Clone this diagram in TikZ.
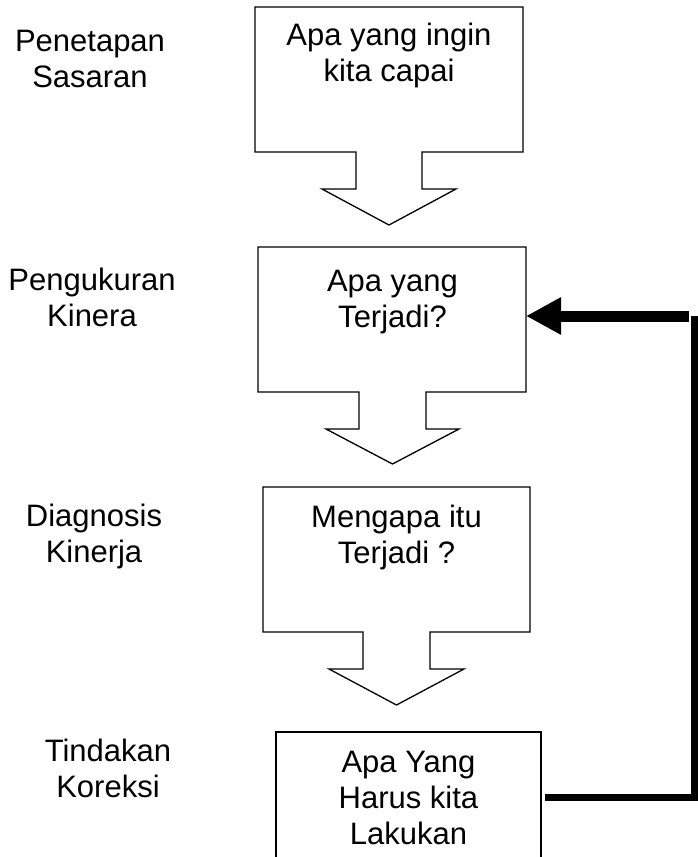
\documentclass[tikz,border=0pt]{standalone}
\usepackage{fontspec}
\setmainfont{Liberation Sans}
\usetikzlibrary{arrows.meta}
\begin{document}
\begin{tikzpicture}[x=1pt,y=-1pt,
  outline/.style={draw=black,line width=1.3pt,line join=miter},
  area/.style={draw=none,inner sep=0pt,outer sep=0pt},
  lbl/.style={font=\fontsize{31pt}{36pt}\selectfont,align=center,anchor=north,inner sep=0pt},
  fbline/.style={draw=black,line width=7pt,line join=miter}
]
\fill[white] (0,0) rectangle (698,857);
\useasboundingbox (0,0) rectangle (698,857);

% invisible box areas (for connections)
\node[area, minimum width=268pt, minimum height=145pt] (b1) at (389,79.5) {};
\node[area, minimum width=268pt, minimum height=145pt] (b2) at (392,319.5) {};
\node[area, minimum width=267pt, minimum height=145pt] (b3) at (396.5,559.5) {};
\node[area, minimum width=265pt, minimum height=148pt] (b4) at (408.5,806) {};

% box outlines with block arrows
\draw[outline] (356,152) -- (255,152) -- (255,7) -- (523,7) -- (523,152) -- (422,152)
  -- (422,189) -- (456,189) -- (389,225) -- (322,189) -- (356,189) -- cycle;
\draw[outline] (359,392) -- (258,392) -- (258,247) -- (526,247) -- (526,392) -- (426,392)
  -- (426,429) -- (459,429) -- (392.5,464) -- (326,429) -- (359,429) -- cycle;
\draw[outline] (363,632) -- (263,632) -- (263,487) -- (530,487) -- (530,632) -- (430,632)
  -- (430,669) -- (464,669) -- (396.5,705) -- (329,669) -- (363,669) -- cycle;
\draw[outline] (276,862) -- (276,732) -- (541,732) -- (541,862);

% box texts
\node[lbl] (x1) at (389,22.5) {Apa yang ingin\\kita capai};
\node[lbl] (x2) at (392.5,269.5) {Apa yang\\Terjadi?};
\node[lbl] (x3) at (396.5,504.5) {Mengapa itu\\Terjadi ?};
\node[lbl] (x4) at (408.5,750.5) {Apa Yang\\Harus kita\\Lakukan};

% left labels
\node[lbl] (l1) at (90,29.5) {Penetapan\\Sasaran};
\node[lbl] (l2) at (92,267.5) {Pengukuran\\Kinera};
\node[lbl] (l3) at (94,503.5) {Diagnosis\\Kinerja};
\node[lbl] (l4) at (108,738.5) {Tindakan\\Koreksi};

% feedback connector
\coordinate (turnB) at (694,797);
\coordinate (turnT) at (694,316);
\draw[fbline] ([xshift=4pt]b4.east |- turnB) -- (turnB) -- (turnT);
\draw[draw=black,line width=11pt,-{Triangle[length=35pt,width=35pt]}]
  ([xshift=-5pt]turnT) -- (b2.east |- turnT);
\end{tikzpicture}
\end{document}
